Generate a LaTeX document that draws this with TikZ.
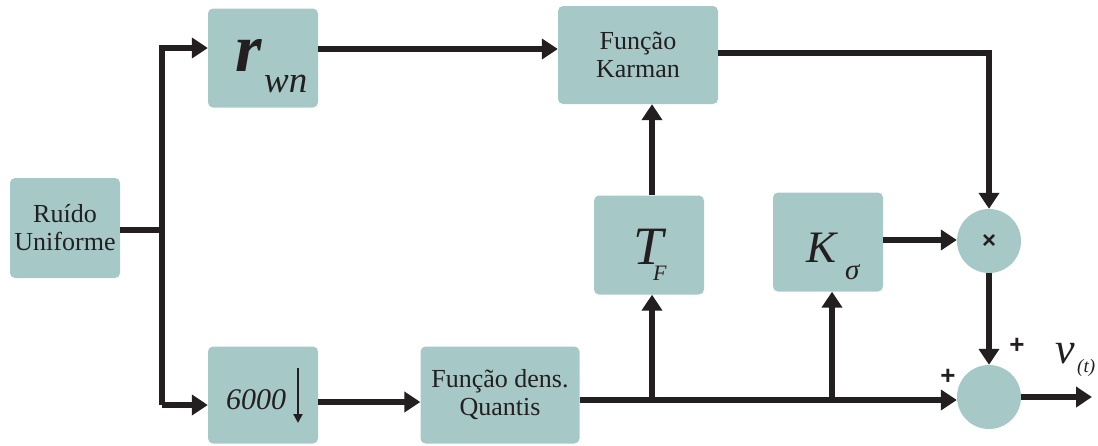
\documentclass[tikz,border=0pt]{standalone}
\usepackage{fontspec}
\setmainfont{Liberation Serif}
\newfontfamily\sansf{Liberation Sans}
\usetikzlibrary{arrows.meta}
\definecolor{boxfill}{HTML}{A6C9C8}
\definecolor{ink}{HTML}{231F20}
\newcommand{\fsz}[1]{\fontsize{#1}{#1}\selectfont}
\begin{document}
\begin{tikzpicture}[x=1pt,y=-1pt,
  blk/.style={fill=boxfill,draw=none,rounded corners=5pt,align=center,inner sep=0pt,text=ink},
  sumc/.style={circle,fill=boxfill,draw=none,minimum size=64pt,inner sep=0pt,text=ink},
  wire/.style={draw=ink,line width=5.5pt},
  arr/.style={wire,-{Triangle[length=16pt,width=20pt]}},
  lbl/.style={text=ink,inner sep=0pt,anchor=base west}]
\useasboundingbox (0,0) rectangle (1098,445);
\node[blk,minimum width=110pt,minimum height=100pt,font=\fontsize{26}{28}\selectfont] (ru) at (65,228) {Ruído\\Uniforme};
\node[blk,minimum width=110pt,minimum height=99pt] (rwn) at (263,58) {};
\node[blk,minimum width=160pt,minimum height=98pt,font=\fontsize{26}{28}\selectfont] (kar) at (638,55) {Função\\Karman};
\node[blk,minimum width=110pt,minimum height=99pt] (tf) at (649,245) {};
\node[blk,minimum width=110pt,minimum height=99pt] (ks) at (828,242) {};
\node[blk,minimum width=110pt,minimum height=97pt] (dec) at (263,395) {};
\node[blk,minimum width=159pt,minimum height=97pt,font=\fontsize{26}{28}\selectfont] (qua) at (500,395) {Função dens.\\Quantis};
\node[sumc] (mul) at (989,241) {\sansf\bfseries\fsz{24}×};
\node[sumc] (sum) at (989,397) {};
% box contents
\node[lbl] (rr) at (235,71) {\fsz{68}\bfseries\itshape r};
\node[lbl] (rs) at (264,92) {\fsz{37}\itshape wn};
\node[lbl] (tt) at (633,264) {\fsz{54}\itshape T};
\node[lbl] (ts) at (653,280) {\fsz{22}\itshape F};
\node[lbl] (kk) at (806,262) {\fsz{45}\itshape K};
\node[lbl] (kss) at (845,279) {\fsz{29}\itshape σ};
\node[lbl] (six) at (226,409) {\fsz{30}\itshape 6000};
\coordinate (da) at (298,368);
\coordinate (db) at (298,423);
\draw[draw=ink,line width=2.2pt,-{Triangle[length=9pt,width=9pt]}] (da) -- (db);
\coordinate (sp) at (162,230);
\coordinate (out) at (1092,397);
% splitter
\draw[wire] (ru.east |- sp) -- (sp);
\draw[wire] (162,45) -- (162,405);
\draw[arr] (162,48) -- (rwn.west |- 0,48);
\draw[arr] (162,405) -- (dec.west |- 0,405);
% top path
\draw[arr] (rwn.east |- 0,49) -- (kar.west |- 0,49);
\draw[wire] (kar.east |- 0,53) -| (989,180);
\draw[arr] (989,150) -- (mul.north);
% bottom path
\draw[arr] (dec.east |- 0,402) -- (qua.west |- 0,402);
\draw[arr] (qua.east |- 0,400) -- (sum.west |- 0,400);
\draw[arr] (652,400) -- (tf.south -| 652,0);
\draw[arr] (832,400) -- (ks.south -| 832,0);
\draw[arr] (tf.north -| 652,0) -- (kar.south -| 652,0);
\draw[arr] (ks.east |- 0,240) -- (mul.west |- 0,240);
\draw[arr] (mul.south) -- (sum.north);
\draw[arr] (sum.east) -- (out);
% labels
\node[text=ink,font=\sansf\bfseries\fsz{26}] (p1) at (1017,346) {+};
\node[text=ink,font=\sansf\bfseries\fsz{26}] (p2) at (948,377) {+};
\node[lbl] (vv) at (1055,363) {\fsz{44}\itshape v};
\node[lbl] (vs) at (1077,372) {\fsz{19}\itshape (t)};
\end{tikzpicture}
\end{document}
